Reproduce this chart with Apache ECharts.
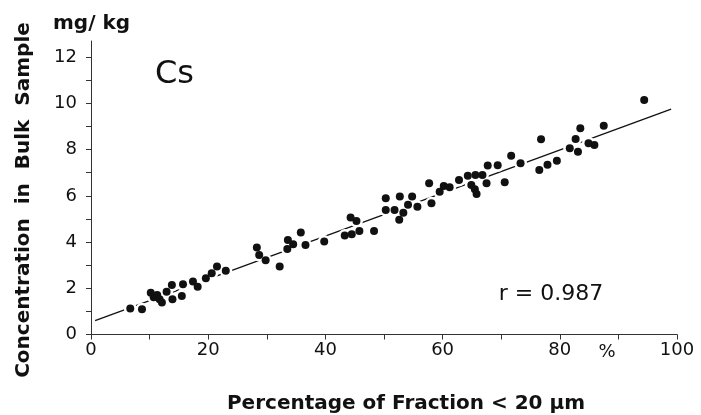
<!DOCTYPE html>
<html>
<head>
<meta charset="utf-8">
<script src="https://cdn.jsdelivr.net/npm/echarts@6/dist/echarts.min.js"></script>
<style>
  html, body { margin: 0; padding: 0; background: #fff; }
  #chart { width: 701px; height: 415px; }
</style>
</head>
<body>
<div id="chart"></div>
<script>
// percentage of fraction < 20 µm
const pctFine = [
  6.7, 8.7, 10.2, 10.7, 11.3, 11.7, 12.1, 12.9, 13.8, 13.9,
  15.5, 15.7, 17.4, 18.2, 19.6, 20.6, 21.5, 23.0,
  28.3, 28.7, 29.8, 32.2, 33.6, 33.5, 34.5, 35.8, 36.6, 39.8,
  43.3, 44.3, 45.3, 44.5, 45.8, 48.3,
  50.3, 50.3, 51.8, 52.6, 52.7, 53.3, 54.1, 54.8, 55.7, 57.7,
  58.1, 59.5, 60.2, 61.2, 62.8, 64.3, 64.9, 65.5, 65.8, 65.6,
  66.8, 67.5, 67.7, 69.4, 70.6, 71.7, 73.3, 76.5, 76.8, 77.9,
  79.5, 81.7, 83.1, 82.7, 83.5, 84.9, 85.9, 87.5, 94.4
];
// Cs concentration in bulk sample, mg/kg
const csBulk = [
  1.13, 1.09, 1.81, 1.61, 1.71, 1.52, 1.38, 1.85, 2.14, 1.52,
  1.67, 2.17, 2.29, 2.07, 2.43, 2.65, 2.94, 2.76,
  3.76, 3.44, 3.21, 2.94, 4.09, 3.70, 3.90, 4.41, 3.87, 4.02,
  4.28, 5.06, 4.91, 4.34, 4.48, 4.48,
  5.90, 5.39, 5.39, 4.96, 5.97, 5.27, 5.61, 5.97, 5.53, 6.55,
  5.68, 6.18, 6.43, 6.37, 6.69, 6.87, 6.47, 6.29, 6.08, 6.90,
  6.90, 6.55, 7.31, 7.32, 6.59, 7.74, 7.41, 7.12, 8.45, 7.34,
  7.52, 8.06, 7.91, 8.46, 8.93, 8.28, 8.20, 9.03, 10.15
];
// regression line end points
const fitX = [0.7, 99.0];
const fitY = [0.60, 9.75];

const xTicks = [0, 10, 20, 30, 40, 50, 60, 70, 80, 90, 100];
const xLabels = [0, 20, 40, 60, 80, 100];
const yTicks = [0, 1, 2, 3, 4, 5, 6, 7, 8, 9, 10, 11, 12];
const yLabels = [0, 2, 4, 6, 8, 10, 12];

const points = pctFine.map((x, i) => [x, csBulk[i]]);
const fitLine = fitX.map((x, i) => [x, fitY[i]]);

const FONT = '"DejaVu Sans", sans-serif';
const ink = '#111';

const chart = echarts.init(document.getElementById('chart'), null, { renderer: 'canvas' });

chart.setOption({
  animation: false,
  backgroundColor: '#fff',
  grid: { left: 91, right: 24, top: 41, bottom: 80.5 },
  xAxis: {
    type: 'value', min: 0, max: 100, interval: 10,
    axisLine: { lineStyle: { color: '#333', width: 1 } },
    axisTick: { show: true, customValues: xTicks, length: 5, lineStyle: { color: '#333' } },
    axisLabel: {
      customValues: xLabels, margin: 7, color: ink,
      fontFamily: FONT, fontSize: 18
    },
    splitLine: { show: false }
  },
  yAxis: {
    type: 'value', min: 0, max: 12.7, interval: 1,
    axisLine: { show: true, lineStyle: { color: '#333', width: 1 } },
    axisTick: { show: true, customValues: yTicks, length: 5, lineStyle: { color: '#333' } },
    axisLabel: {
      customValues: yLabels, margin: 14, color: ink,
      fontFamily: FONT, fontSize: 18
    },
    splitLine: { show: false }
  },
  graphic: [
    { type: 'text', x: 24, y: 200, rotation: Math.PI / 2,
      style: { text: 'Concentration  in  Bulk  Sample', fill: ink, align: 'center', verticalAlign: 'middle',
               font: 'bold 20px ' + FONT } },
    { type: 'text', x: 406, y: 404,
      style: { text: 'Percentage of Fraction < 20 µm', fill: ink, align: 'center', verticalAlign: 'middle',
               font: 'bold 20px ' + FONT } },
    { type: 'text', x: 53, y: 24,
      style: { text: 'mg/ kg', fill: ink, align: 'left', verticalAlign: 'middle',
               font: 'bold 20px ' + FONT } },
    { type: 'text', x: 155, y: 75,
      style: { text: 'Cs', fill: ink, align: 'left', verticalAlign: 'middle',
               font: '32px ' + FONT } },
    { type: 'text', x: 551, y: 294,
      style: { text: 'r = 0.987', fill: ink, align: 'center', verticalAlign: 'middle',
               font: '22px ' + FONT } },
    { type: 'text', x: 607, y: 352,
      style: { text: '%', fill: ink, align: 'center', verticalAlign: 'middle',
               font: '18px ' + FONT } }
  ],
  series: [
    {
      type: 'line', data: fitLine, symbol: 'none', z: 2, silent: true,
      lineStyle: { color: ink, width: 1.3 }
    },
    {
      // white halo so the fit line breaks around the dots
      type: 'scatter', data: points, symbolSize: 13, z: 3, silent: true,
      itemStyle: { color: '#fff', opacity: 1 }
    },
    {
      type: 'scatter', data: points, symbolSize: 8, z: 4,
      itemStyle: { color: ink, opacity: 1 }
    }
  ]
});
</script>
</body>
</html>
